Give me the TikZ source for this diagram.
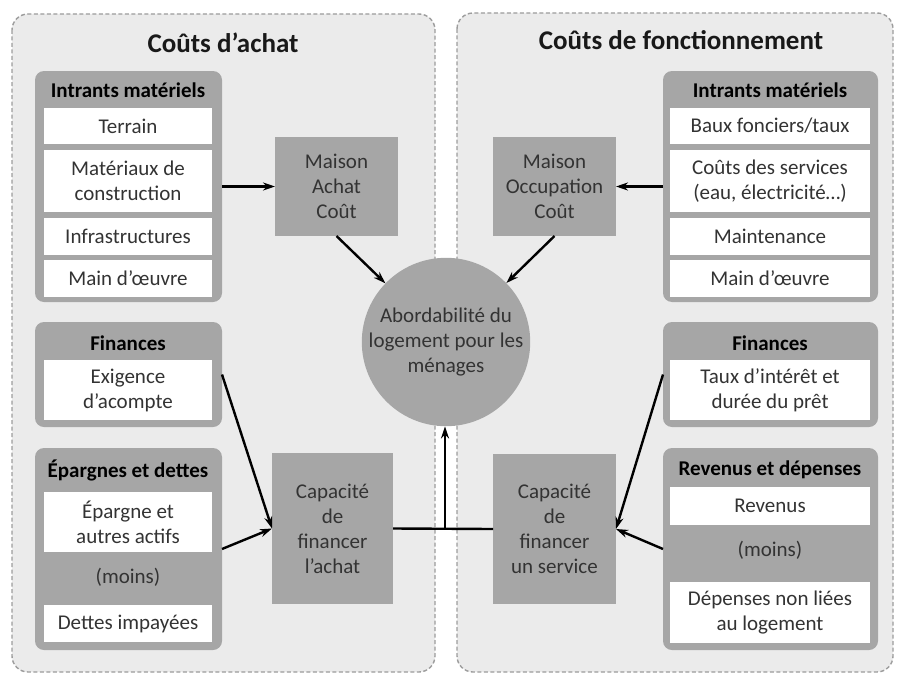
\documentclass[tikz,border=0pt]{standalone}
\usepackage{fontspec}
\setmainfont{Carlito}
\usetikzlibrary{arrows.meta}

\definecolor{panelgray}{HTML}{EBEBEB}
\definecolor{boxgray}{HTML}{A6A6A6}
\definecolor{edgegray}{HTML}{9C9C9C}
\definecolor{textgray}{HTML}{333333}

\tikzset{
  panel/.style={draw=edgegray, fill=panelgray, line width=1.4pt, dash pattern=on 4pt off 2.5pt, rounded corners=16pt},
  grpbox/.style={fill=boxgray, rounded corners=9pt, inner sep=0pt, outer sep=0pt},
  itembox/.style={fill=white, inner sep=0pt, outer sep=0pt, align=center, text=textgray, font=\fontsize{21}{25}\selectfont},
  grphead/.style={text=black, font=\bfseries\fontsize{21}{24}\selectfont},
  greybox/.style={fill=boxgray, inner sep=0pt, outer sep=0pt, align=center, text=textgray, minimum width=123pt, font=\fontsize{21}{25}\selectfont},
  paneltitle/.style={text=black!90, font=\bfseries\fontsize{27}{32}\selectfont},
  link/.style={-{Stealth[length=12pt,width=8pt]}, line width=2.4pt, black},
}

\begin{document}
\begin{tikzpicture}[x=1pt, y=-1pt]
%\draw[help lines, step=50pt] (0,0) grid (899,677);
\useasboundingbox (0,0) rectangle (899,677);
\draw[panel] (12,14) rectangle (435,672);
\draw[panel] (457,13) rectangle (893,672);
\node[paneltitle] (titleA) at (223,43) {Coûts d’achat};
\node[paneltitle] (titleF) at (681,40) {Coûts de fonctionnement};

% left side
\node[grpbox, minimum width=187pt, minimum height=231pt] (inA) at (128.5,186.5) {};
\node[grphead] (inAh) at (128,90) {Intrants matériels};
\node[itembox, minimum width=168pt, minimum height=36pt] (terrain) at (128,126) {Terrain};
\node[itembox, minimum width=168pt, minimum height=62pt] (mat) at (128,181) {Matériaux de\\construction};
\node[itembox, minimum width=168pt, minimum height=37pt] (infra) at (128,236.5) {Infrastructures};
\node[itembox, minimum width=168pt, minimum height=37pt] (moA) at (128,278.5) {Main d’œuvre};

\node[grpbox, minimum width=187pt, minimum height=105pt] (finA) at (128.5,374.5) {};
\node[grphead] (finAh) at (128,343) {Finances};
\node[itembox, minimum width=168pt, minimum height=60pt] (acompte) at (128,390) {Exigence\\d’acompte};

\node[grpbox, minimum width=187pt, minimum height=202pt] (epA) at (128.5,549) {};
\node[grphead] (epAh) at (128,470) {Épargnes et dettes};
\node[itembox, minimum width=168pt, minimum height=60pt] (actifs) at (128,522) {Épargne et\\autres actifs};
\node[text=textgray, font=\fontsize{21}{25}\selectfont] (moinsA) at (128,577) {(moins)};
\node[itembox, minimum width=168pt, minimum height=37pt] (dettes) at (128,623.5) {Dettes impayées};

\node[greybox, minimum height=99pt] (maisonA) at (336.5,186.5) {Maison\\Achat\\Coût};
\node[greybox, minimum width=121pt, minimum height=151pt] (capA) at (332.5,528.5) {Capacité\\de\\financer\\l’achat};

% middle
\node[circle, fill=boxgray, minimum size=166pt, inner sep=0pt, align=center, text=textgray, font=\fontsize{21}{25}\selectfont] (aff) at (446,342) {Abordabilité du\\logement pour les\\ménages};

% right side
\node[grpbox, minimum width=215pt, minimum height=231pt] (inF) at (770.5,186.5) {};
\node[grphead] (inFh) at (770,90) {Intrants matériels};
\node[itembox, minimum width=200pt, minimum height=36pt] (baux) at (770,126) {Baux fonciers/taux};
\node[itembox, minimum width=200pt, minimum height=62pt] (serv) at (770,181) {Coûts des services\\(eau, électricité…)};
\node[itembox, minimum width=200pt, minimum height=37pt] (maint) at (770,236.5) {Maintenance};
\node[itembox, minimum width=200pt, minimum height=37pt] (moF) at (770,278.5) {Main d’œuvre};

\node[grpbox, minimum width=215pt, minimum height=105pt] (finF) at (770.5,374.5) {};
\node[grphead] (finFh) at (770,343) {Finances};
\node[itembox, minimum width=200pt, minimum height=60pt] (taux) at (770,390) {Taux d’intérêt et\\durée du prêt};

\node[grpbox, minimum width=215pt, minimum height=202pt] (revF) at (770.5,549) {};
\node[grphead] (revFh) at (770,470) {Revenus et dépenses};
\node[itembox, minimum width=200pt, minimum height=38pt] (revenus) at (770,506) {Revenus};
\node[text=textgray, font=\fontsize{21}{25}\selectfont] (moinsF) at (770,550) {(moins)};
\node[itembox, minimum width=200pt, minimum height=61pt] (depenses) at (770,612.5) {Dépenses non liées\\au logement};

\node[greybox, minimum height=99pt] (maisonF) at (554.5,186.5) {Maison\\Occupation\\Coût};
\node[greybox, minimum height=150pt] (capF) at (554.5,529) {Capacité\\de\\financer\\un service};

% connectors
\draw[link] (inA.east |- maisonA.west) -- (maisonA.west);
\draw[link] (maisonA.south) -- (aff);
\draw[link] (inF.west |- maisonF.east) -- (maisonF.east);
\draw[link] (maisonF.south) -- (aff);
\draw[link] (finA.east) -- (capA.west);
\draw[link] (epA.east) -- (capA.west);
\draw[link] (finF.west) -- (capF.east);
\draw[link] (revF.west) -- (capF.east);
\draw[line width=2.4pt] (capA.east) -- coordinate[pos=0.52] (join) (capF.west);
\draw[link] (join) -- (join |- aff.south);
\end{tikzpicture}
\end{document}
